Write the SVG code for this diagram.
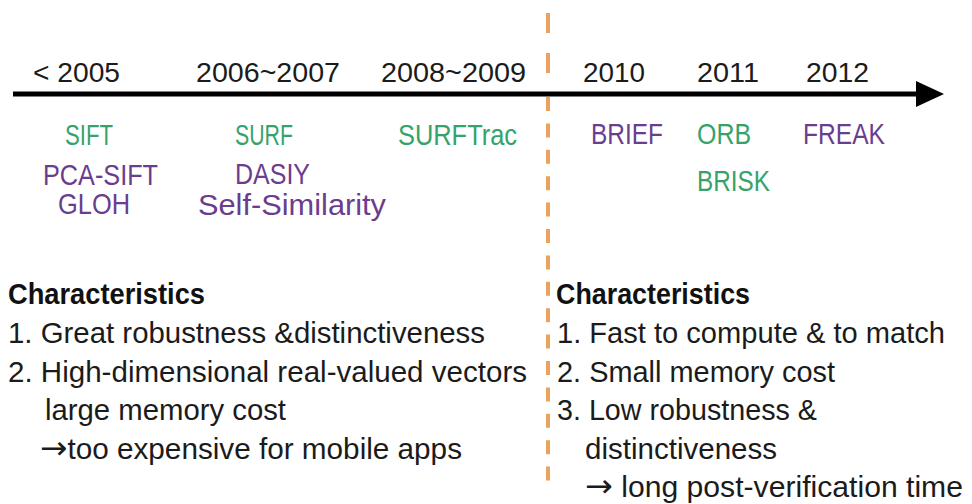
<svg xmlns="http://www.w3.org/2000/svg" width="972" height="504" viewBox="0 0 972 504">
<style>
text{font-family:"Liberation Sans",Arial,sans-serif;fill:#1b1b1b;}
.yr{font-size:28px;}
.lb{font-size:29px;}
.g{fill:#34a36b;}
.p{fill:#6a3d8e;}
.bt{font-size:29px;}
.hd{font-size:29px;font-weight:bold;fill:#111;}
.ar{font-family:"DejaVu Sans",sans-serif;font-size:32px;}
.dash{stroke:#eaa25e;stroke-width:4;fill:none;}
</style>
<rect width="972" height="504" fill="#ffffff"/>
<g id="connectors">
<line x1="13" y1="94" x2="918" y2="94" stroke="#000" stroke-width="5"/>
<polygon points="916,81 944,94 916,107" fill="#000"/>
<line class="dash" x1="548" y1="13" x2="548" y2="90" stroke-dasharray="20 20"/>
<line class="dash" x1="548" y1="97" x2="548" y2="488" stroke-dasharray="14 12.4"/>
</g>
<g id="years">
<text class="yr" x="33" y="82" textLength="87" lengthAdjust="spacingAndGlyphs">&lt; 2005</text>
<text class="yr" x="196" y="82" textLength="144" lengthAdjust="spacingAndGlyphs">2006~2007</text>
<text class="yr" x="381" y="82" textLength="145" lengthAdjust="spacingAndGlyphs">2008~2009</text>
<text class="yr" x="583" y="82" textLength="62" lengthAdjust="spacingAndGlyphs">2010</text>
<text class="yr" x="697" y="82" textLength="62" lengthAdjust="spacingAndGlyphs">2011</text>
<text class="yr" x="806" y="82" textLength="63" lengthAdjust="spacingAndGlyphs">2012</text>
</g>
<g id="sift"><text class="lb g" x="65" y="145" textLength="48" lengthAdjust="spacingAndGlyphs">SIFT</text></g>
<g id="pca-sift"><text class="lb p" x="43" y="185" textLength="115" lengthAdjust="spacingAndGlyphs">PCA-SIFT</text></g>
<g id="gloh"><text class="lb p" x="58" y="214" textLength="72" lengthAdjust="spacingAndGlyphs">GLOH</text></g>
<g id="surf"><text class="lb g" x="235" y="145" textLength="58" lengthAdjust="spacingAndGlyphs">SURF</text></g>
<g id="dasiy"><text class="lb p" x="235" y="184" font-size="28" textLength="75" lengthAdjust="spacingAndGlyphs">DASIY</text></g>
<g id="self-similarity"><text class="lb p" x="198" y="215" font-size="27" textLength="188" lengthAdjust="spacingAndGlyphs">Self-Similarity</text></g>
<g id="surftrac"><text class="lb g" x="398" y="145" textLength="119" lengthAdjust="spacingAndGlyphs">SURFTrac</text></g>
<g id="brief"><text class="lb p" x="591" y="144" textLength="72" lengthAdjust="spacingAndGlyphs">BRIEF</text></g>
<g id="orb"><text class="lb g" x="697" y="144" textLength="54" lengthAdjust="spacingAndGlyphs">ORB</text></g>
<g id="brisk"><text class="lb g" x="697" y="191" textLength="73" lengthAdjust="spacingAndGlyphs">BRISK</text></g>
<g id="freak"><text class="lb p" x="803" y="144" textLength="82" lengthAdjust="spacingAndGlyphs">FREAK</text></g>
<g id="left-characteristics">
<text class="hd" x="8" y="304" textLength="197" lengthAdjust="spacingAndGlyphs">Characteristics</text>
<text class="bt" x="8" y="343" textLength="477" lengthAdjust="spacingAndGlyphs">1. Great robustness &amp;distinctiveness</text>
<text class="bt" x="8" y="381.5" textLength="519" lengthAdjust="spacingAndGlyphs">2. High-dimensional real-valued vectors</text>
<text class="bt" x="45" y="420" textLength="241" lengthAdjust="spacingAndGlyphs">large memory cost</text>
<text class="bt" x="40" y="458.5" textLength="422" lengthAdjust="spacingAndGlyphs"><tspan class="ar">→</tspan>too expensive for mobile apps</text>
</g>
<g id="right-characteristics">
<text class="hd" x="556" y="304" textLength="194" lengthAdjust="spacingAndGlyphs">Characteristics</text>
<text class="bt" x="557" y="343" textLength="388" lengthAdjust="spacingAndGlyphs">1. Fast to compute &amp; to match</text>
<text class="bt" x="557" y="381.5" textLength="278" lengthAdjust="spacingAndGlyphs">2. Small memory cost</text>
<text class="bt" x="557" y="420" textLength="260" lengthAdjust="spacingAndGlyphs">3. Low robustness &amp;</text>
<text class="bt" x="585" y="458.5" textLength="192" lengthAdjust="spacingAndGlyphs">distinctiveness</text>
<text class="bt" x="585" y="497" textLength="378" lengthAdjust="spacingAndGlyphs"><tspan class="ar">→</tspan> long post-verification time</text>
</g>
</svg>
